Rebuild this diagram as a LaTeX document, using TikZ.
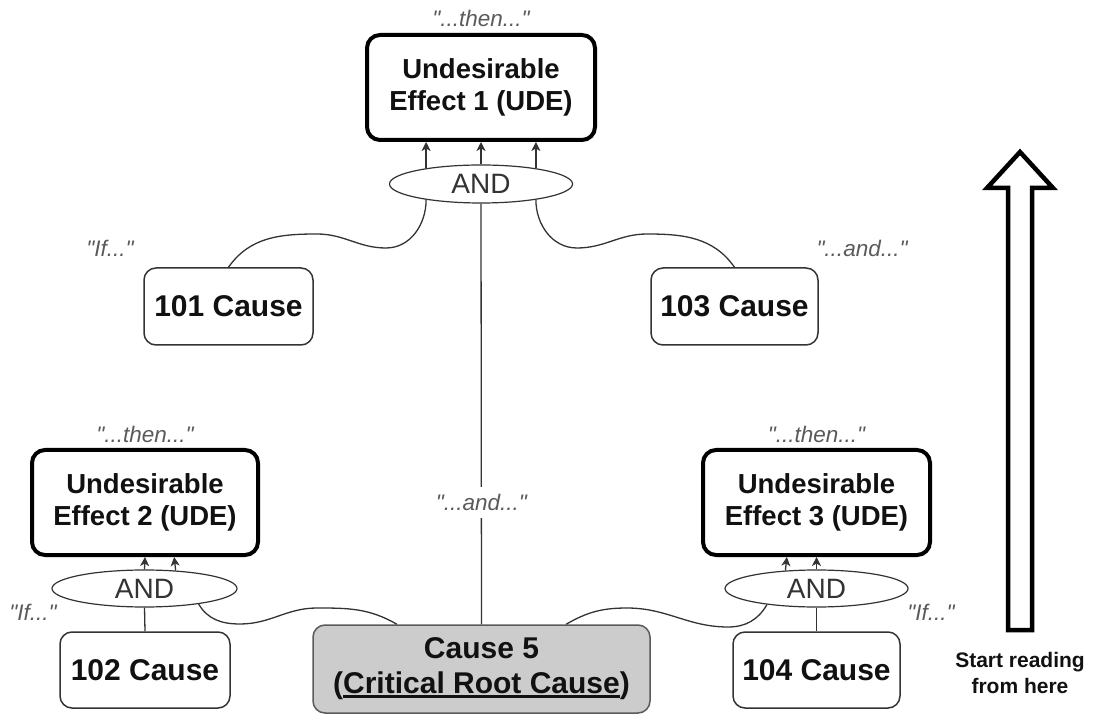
\documentclass[tikz,border=0pt]{standalone}
\usepackage{fontspec}
\setmainfont{Liberation Sans}
% plain family for the italic remarks, so that " stays a straight quote
\newfontfamily\remarkfont{Liberation Sans}
\usetikzlibrary{shapes.geometric,arrows.meta,calc}
\definecolor{labelgray}{HTML}{5A5A5A}
\definecolor{rootfill}{HTML}{CCCCCC}
\definecolor{edgegray}{HTML}{333333}
\definecolor{inkblack}{HTML}{111111}
% thick underline placed under a word group
\newcommand{\rootul}[1]{\setbox0=\hbox{#1}\rlap{\rule[-4pt]{\wd0}{2.4pt}}\box0}

\begin{document}
\begin{tikzpicture}[x=1pt,y=1pt,
  ude/.style={draw=black, line width=4pt, rounded corners=13pt, fill=white,
    align=center, inner sep=0pt, text=inkblack,
    font=\fontsize{27.5}{32}\selectfont\bfseries, minimum height=105pt},
  cause/.style={draw=edgegray, line width=1.5pt, rounded corners=12pt,
    align=center, inner sep=0pt, text=inkblack,
    font=\fontsize{30}{35}\selectfont\bfseries},
  andgate/.style={draw=edgegray, ellipse, line width=1.2pt, inner sep=0pt,
    fill=white, text=edgegray, font=\fontsize{28}{30}\selectfont},
  lbl/.style={font=\remarkfont\fontsize{22.5}{26}\selectfont\itshape, text=labelgray},
  link/.style={draw=edgegray, line width=1.3pt},
  uparrow/.style={link, -{Stealth[length=9pt,width=9pt,inset=2.5pt]}}
]
\useasboundingbox (0,0) rectangle (1094,715);

% effects
\node[ude, minimum width=228pt] (ude1) at (481,627.5) {Undesirable\\Effect 1 (UDE)};
\node[ude, minimum width=226pt] (ude2) at (145,212.5) {Undesirable\\Effect 2 (UDE)};
\node[ude, minimum width=227pt] (ude3) at (816.5,212.5) {Undesirable\\Effect 3 (UDE)};

% AND gates
\node[andgate, minimum width=183pt, minimum height=38pt] (and1) at (481,531) {AND};
\node[andgate, minimum width=185pt, minimum height=37pt] (and2) at (144.5,126.5) {AND};
\node[andgate, minimum width=183pt, minimum height=37pt] (and3) at (816.5,126.5) {AND};

% causes
\node[cause, minimum width=169pt, minimum height=77pt] (c101) at (228.5,408.5) {101 Cause};
\node[cause, minimum width=167pt, minimum height=77pt] (c103) at (734.5,408.5) {103 Cause};
\node[cause, minimum width=170pt, minimum height=76pt] (c102) at (145,45) {102 Cause};
\node[cause, minimum width=167pt, minimum height=76pt] (c104) at (816.5,45) {104 Cause};
\node[cause, draw=labelgray, fill=rootfill, minimum width=337pt, minimum height=88pt] (c5) at (481.5,46)
  {Cause 5\\(\rootul{Critical Root Cause})};

\coordinate (c5l) at ($(c5.north west)!0.25!(c5.north east)$);
\coordinate (c5r) at ($(c5.north west)!0.75!(c5.north east)$);

% reading labels
\node[lbl] (then1) at (481,697) {"...then..."};
\node[lbl] (then2) at (145,281) {"...then..."};
\node[lbl] (then3) at (816.5,281) {"...then..."};
\node[lbl] (if1) at (110,467) {"If..."};
\node[lbl] (and1lbl) at (862,467) {"...and..."};
\node[lbl] (if2) at (33,103) {"If..."};
\node[lbl] (if3) at (931,103) {"If..."};

% AND gates feeding the effects
\draw[uparrow] (and1.164) -- (and1.164 |- ude1.south);
\draw[uparrow] (and1.north) -- (ude1.south);
\draw[uparrow] (and1.16) -- (and1.16 |- ude1.south);
\draw[uparrow] (and2.north) -- (ude2.south);
\draw[uparrow] (and2.30) -- ([xshift=-1.5pt]and2.30 |- ude2.south);
\draw[uparrow] (and3.150) -- ([xshift=1.5pt]and3.150 |- ude3.south);
\draw[uparrow] (and3.north) -- (ude3.south);

% causes into the gates
\draw[link] (c5.north) -- (and1.south)
  node[pos=0.29, lbl, fill=white, inner xsep=2pt, inner ysep=7pt] (and2lbl) {"...and..."};
\draw[link] (c102.north) -- (and2.south);
\draw[link] (c104.north) -- (and3.south);

\draw[link] (and1.196) to[out=-90,in=0] (386,467) to[out=180,in=0] (317,481)
  to[out=180,in=55] (c101.north);
\draw[link] (and1.344) to[out=-90,in=180] (577,467) to[out=0,in=180] (647,481)
  to[out=0,in=125] (c103.north);
\draw[link] (and2.344) to[out=-60,in=180] (240,91) to[out=0,in=180] (317,107)
  to[out=0,in=150] (c5l);
\draw[link] (and3.198) to[out=-120,in=0] (728,88) to[out=180,in=0] (627,107)
  to[out=180,in=30] (c5r);

% reading direction arrow
\draw[line width=4.5pt, line join=miter, fill=white]
  (1008,85) -- (1008,527) -- (987,527) -- (1020,563) -- (1053,527)
  -- (1032,527) -- (1032,85) -- cycle;
\node[align=center, text=inkblack, font=\fontsize{21}{26}\selectfont\bfseries] (start) at (1020,42)
  {Start reading\\from here};
\end{tikzpicture}
\end{document}
